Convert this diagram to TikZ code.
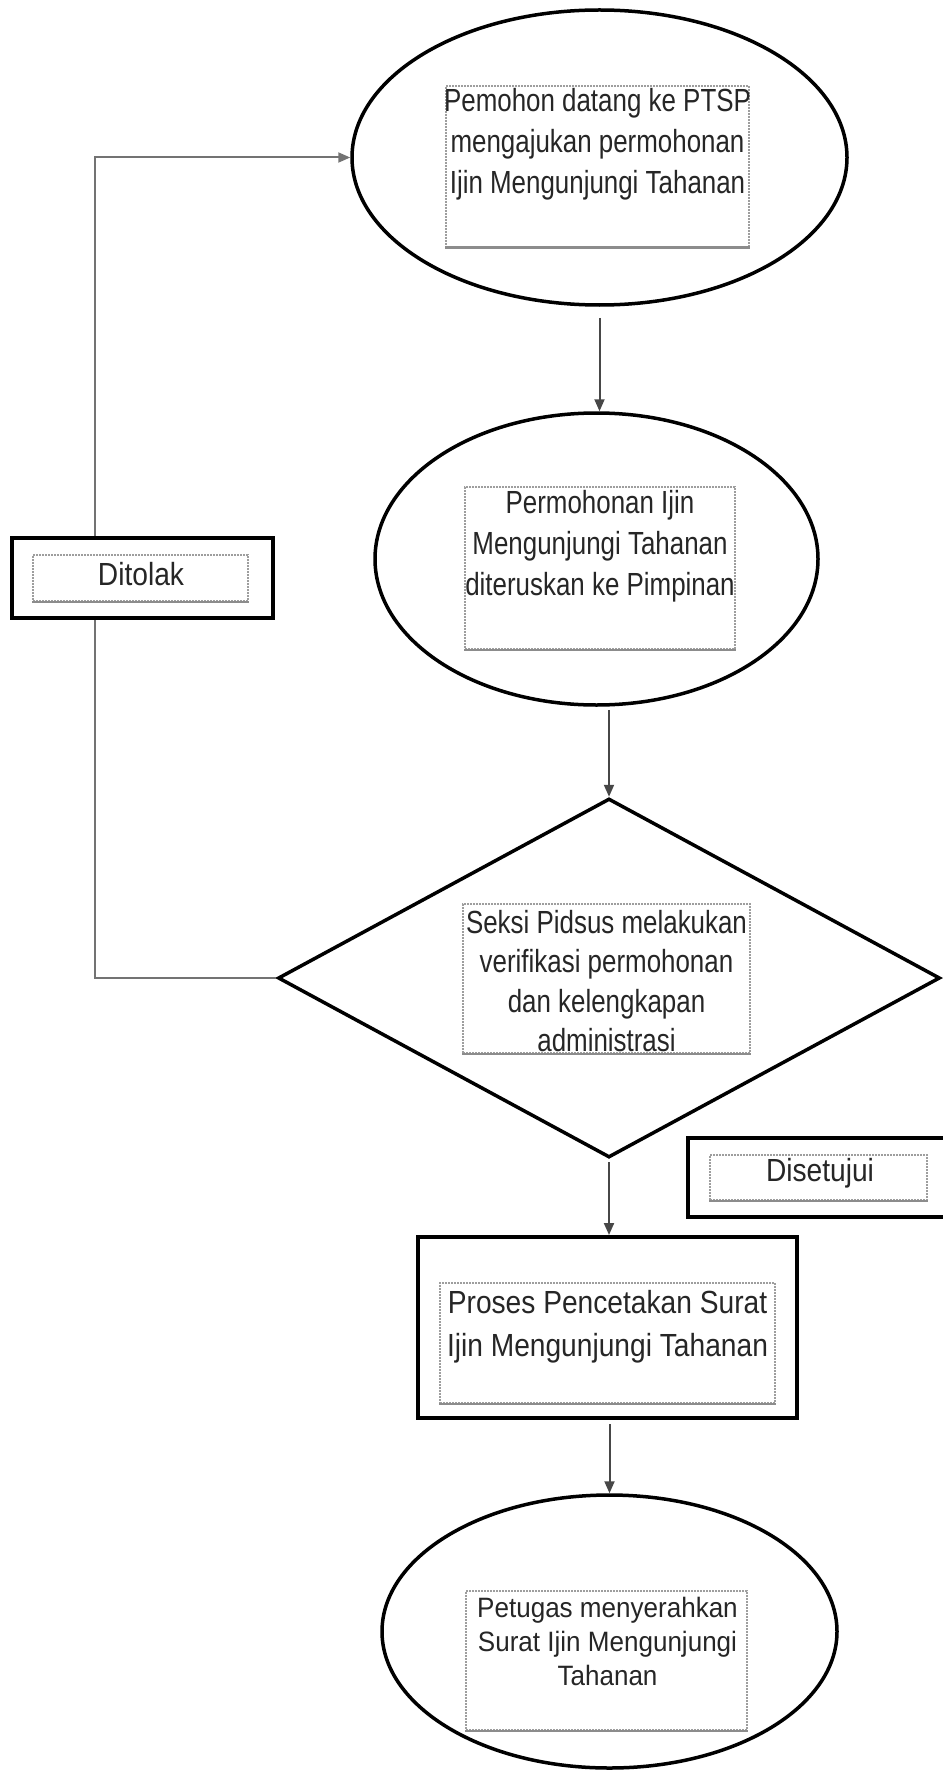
\documentclass[tikz,border=0pt]{standalone}
\usepackage{fontspec}
\setmainfont{Liberation Sans}
\newfontfamily\fnA[FakeStretch=0.81]{Liberation Sans}
\newfontfamily\fnB[FakeStretch=0.88]{Liberation Sans}
\newfontfamily\fnC[FakeStretch=0.93]{Liberation Sans}
\usetikzlibrary{shapes.geometric,arrows.meta}
\begin{document}
\begin{tikzpicture}[x=1pt,y=-1pt,
  shapeline/.style={draw=black,line width=3.5pt,fill=white,inner sep=0pt},
  ell/.style={shapeline,ellipse},
  dbox/.style={draw=black!38,line width=1.8pt,dash pattern=on 2pt off 1pt,inner sep=0pt},
  dbottom/.style={draw=black!45,line width=2.8pt},
  txtA/.style={font=\fnA\fontsize{32}{41}\selectfont,align=center,inner sep=0pt,text=black!85},
  txtB/.style={font=\fnB\fontsize{32}{43}\selectfont,align=center,inner sep=0pt,text=black!85},
  txtC/.style={font=\fnC\fontsize{28}{34}\selectfont,align=center,inner sep=0pt,text=black!85},
  conn/.style={draw=black!72,line width=2pt,-{Triangle[length=12pt,width=10pt]}},
  fback/.style={draw=black!55,line width=2pt,-{Triangle[length=12pt,width=10pt]}}
]
\useasboundingbox (0,0) rectangle (942,1771);

% shapes
\node[ell,minimum width=495pt,minimum height=295pt] (e1) at (599.5,157.5) {};
\node[ell,minimum width=443pt,minimum height=292pt] (e2) at (596.5,559) {};
\node[shapeline,diamond,minimum width=662pt,minimum height=359pt] (d) at (609,978) {};
\node[shapeline,rectangle,line width=4pt,minimum width=379pt,minimum height=181pt] (r) at (607.5,1327.5) {};
\node[ell,minimum width=455pt,minimum height=273pt] (e3) at (609.5,1631.5) {};

% inner dotted boxes
\node[dbox,minimum width=303pt,minimum height=161pt] (b1) at (597.5,166.5) {};
\draw[dbottom] (b1.south west) -- (b1.south east);
\node[dbox,minimum width=270pt,minimum height=162pt] (b2) at (600,568) {};
\draw[dbottom] (b2.south west) -- (b2.south east);
\node[dbox,minimum width=287pt,minimum height=149pt] (b3) at (606.5,978.5) {};
\draw[dbottom] (b3.south west) -- (b3.south east);
\node[dbox,minimum width=335pt,minimum height=120pt] (b4) at (607.5,1343) {};
\draw[dbottom] (b4.south west) -- (b4.south east);
\node[dbox,minimum width=281pt,minimum height=139pt] (b5) at (606.5,1660.5) {};
\draw[dbottom] (b5.south west) -- (b5.south east);

% texts
\node[txtA] (t1) at (597.5,144) {Pemohon datang ke PTSP\\mengajukan permohonan\\Ijin Mengunjungi Tahanan};
\node[txtA] (t2) at (600,546) {Permohonan Ijin\\Mengunjungi Tahanan\\diteruskan ke Pimpinan};
\node[txtA,font=\fnA\fontsize{32}{39.5}\selectfont] (t3) at (606.5,981) {Seksi Pidsus melakukan\\verifikasi permohonan\\dan kelengkapan\\administrasi};
\node[txtB] (t4) at (607.5,1326.5) {Proses Pencetakan Surat\\Ijin Mengunjungi Tahanan};
\node[txtC] (t5) at (607.5,1641.5) {Petugas menyerahkan\\Surat Ijin Mengunjungi\\Tahanan};

% connectors
\draw[conn,shorten <=11pt] (e1.south) -- (e1.south |- e2.north);
\draw[conn,shorten <=3pt] (d.north |- e2.south) -- (d.north);
\draw[conn,shorten <=3pt] (d.south) -- (d.south |- r.north);
\draw[conn,shorten <=4pt] (e3.north |- r.south) -- (e3.north);
\coordinate (fbx) at (95,978);
\draw[fback] (d.west) -- (fbx) |- (e1.west);

% Ditolak label
\node[shapeline,rectangle,minimum width=261pt,minimum height=80pt] (tolak) at (142.5,578) {};
\node[dbox,minimum width=215pt,minimum height=46pt] (tolakb) at (140.5,578) {};
\draw[dbottom] (tolakb.south west) -- (tolakb.south east);
\node[txtB] (tolakt) at (141,574) {Ditolak};

% Disetujui label
\node[shapeline,rectangle,minimum width=258pt,minimum height=79pt] (setuju) at (817,1177.5) {};
\node[dbox,minimum width=217pt,minimum height=45pt] (setujub) at (818.5,1177.5) {};
\draw[dbottom] (setujub.south west) -- (setujub.south east);
\node[txtB] (setujut) at (820,1173) {Disetujui};
\end{tikzpicture}
\end{document}
